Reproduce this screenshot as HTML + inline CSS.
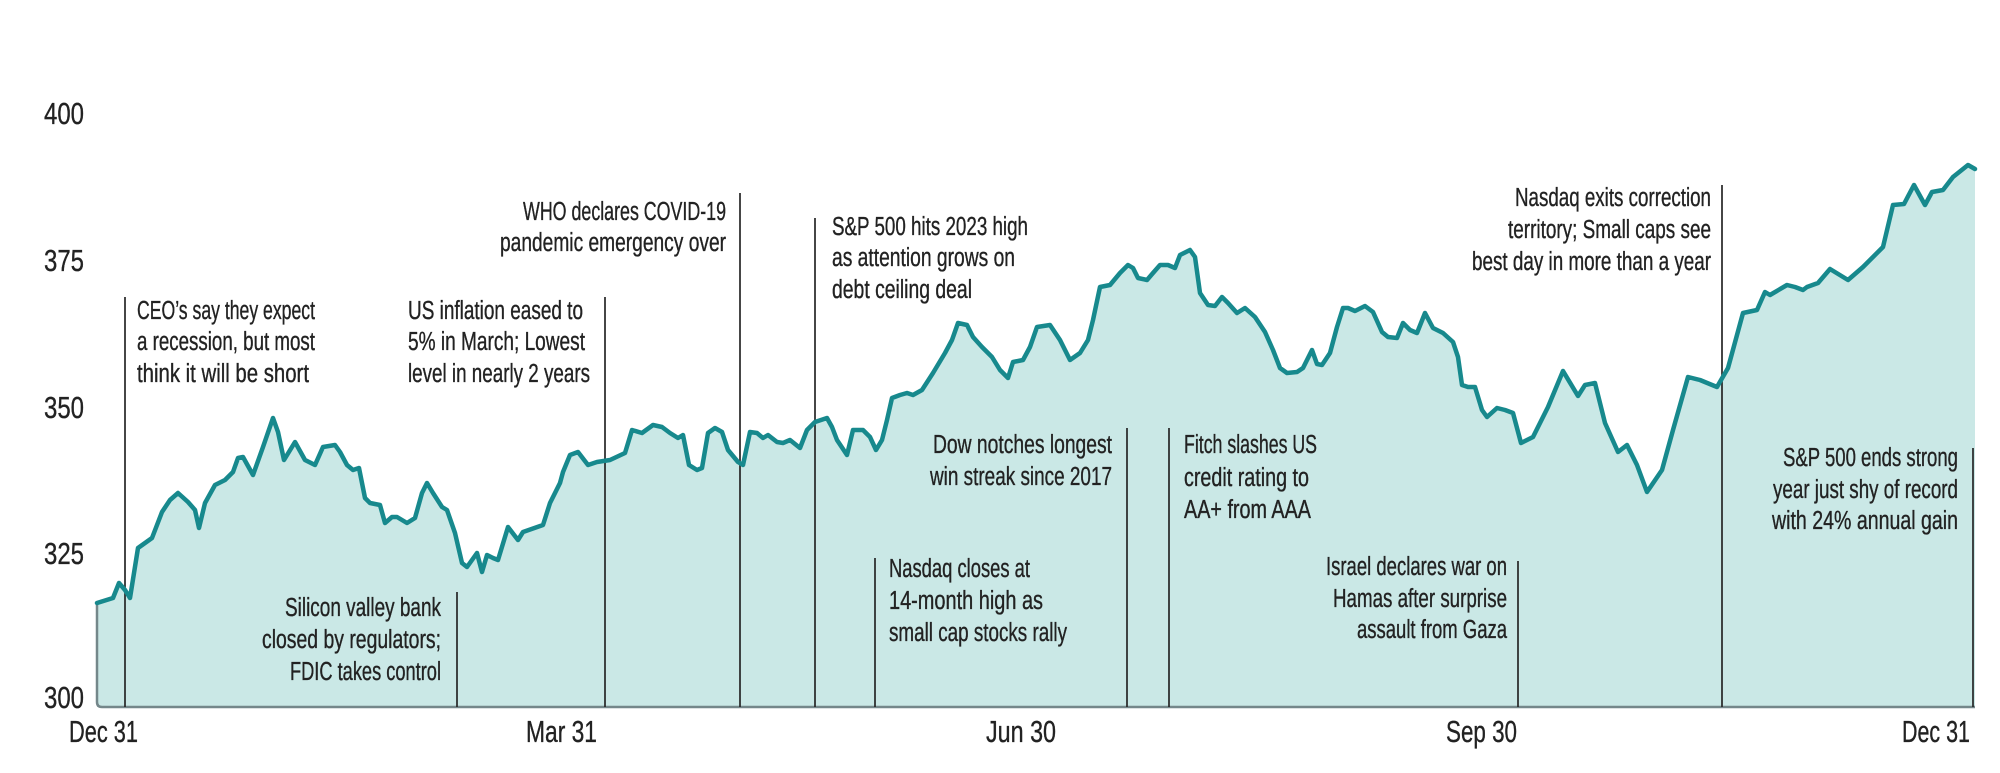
<!DOCTYPE html>
<html>
<head>
<meta charset="utf-8">
<style>
  html,body{margin:0;padding:0;background:#ffffff;}
  svg{display:block;}
  text{font-family:"Liberation Sans Narrow","Liberation Sans",sans-serif;fill:#222222;stroke:#222222;stroke-width:0.35px;}
  .a{font-size:25.5px;}
  .ax{font-size:31px;}
</style>
</head>
<body>
<svg width="2000" height="773" viewBox="0 0 2000 773" xmlns="http://www.w3.org/2000/svg">
  <rect x="0" y="0" width="2000" height="773" fill="#ffffff"/>

  <!-- area -->
  <path fill="#cae8e6" stroke="none" d="M97,707 L97,603 L113,598 L119,583 L125,590 L130,598 L138,548 L145,543 L152,538 L162,512 L170,500 L178,493 L188,502 L195,510 L199,528 L205,503 L215,485 L225,480 L233,472 L238,458 L243,457 L253,475 L263,447 L273,418 L278,432 L284,460 L295,442 L305,460 L315,465 L323,447 L335,445 L340,452 L347,465 L353,470 L359,468 L365,498 L370,503 L380,505 L385,523 L392,517 L397,517 L407,523 L415,518 L422,493 L427,483 L433,493 L442,507 L447,510 L455,533 L462,563 L467,567 L477,553 L482,572 L487,555 L493,558 L498,560 L508,527 L518,540 L523,532 L543,525 L550,503 L560,483 L563,472 L570,455 L578,452 L588,465 L597,462 L610,460 L625,453 L632,430 L642,433 L653,425 L662,427 L670,433 L678,438 L683,435 L689,465 L697,470 L702,468 L708,433 L715,428 L722,432 L728,450 L738,462 L743,465 L750,432 L757,433 L763,438 L768,435 L777,442 L783,443 L790,440 L800,448 L807,430 L815,422 L827,418 L832,427 L837,440 L847,455 L853,430 L863,430 L870,437 L876,450 L882,440 L887,420 L892,398 L900,395 L907,393 L913,395 L922,390 L933,373 L945,353 L952,340 L958,323 L967,325 L973,337 L982,347 L992,357 L1000,370 L1008,378 L1013,362 L1023,360 L1030,347 L1037,327 L1050,325 L1060,340 L1070,360 L1080,353 L1088,340 L1093,320 L1100,287 L1110,285 L1120,273 L1128,265 L1133,268 L1138,278 L1147,280 L1153,273 L1160,265 L1168,265 L1175,268 L1180,255 L1190,250 L1195,257 L1200,293 L1208,305 L1215,306 L1222,297 L1228,303 L1237,313 L1245,308 L1255,317 L1265,332 L1273,350 L1280,368 L1287,373 L1297,372 L1303,368 L1312,350 L1317,364 L1322,365 L1330,353 L1337,327 L1343,308 L1348,308 L1355,311 L1365,306 L1373,312 L1382,332 L1388,337 L1397,338 L1403,323 L1410,330 L1417,333 L1425,313 L1433,328 L1443,333 L1453,342 L1458,357 L1462,385 L1468,387 L1475,387 L1482,410 L1487,417 L1497,408 L1505,410 L1513,413 L1521,443 L1533,437 L1548,407 L1563,371 L1578,396 L1585,385 L1595,383 L1605,423 L1618,452 L1627,445 L1637,465 L1647,492 L1662,470 L1673,430 L1688,377 L1700,380 L1717,387 L1728,368 L1743,313 L1757,310 L1765,292 L1770,295 L1787,285 L1795,287 L1803,290 L1807,287 L1818,283 L1830,269 L1848,280 L1863,267 L1883,247 L1893,205 L1904,204 L1914,185 L1925,205 L1932,192 L1943,190 L1953,177 L1968,165 L1975,169 L1975,707 Z"/>

  <!-- left edge + baseline -->
  <path d="M97,604 L97,702 Q97,707 102,707 L1975,707" fill="none" stroke="#74878a" stroke-width="2.5"/>

  <!-- annotation lines -->
  <g stroke="#262626" stroke-width="1.7" fill="none">
    <line x1="125" y1="297" x2="125" y2="707"/>
    <line x1="457" y1="592" x2="457" y2="707"/>
    <line x1="605" y1="297" x2="605" y2="707"/>
    <line x1="740" y1="193" x2="740" y2="707"/>
    <line x1="815" y1="218" x2="815" y2="707"/>
    <line x1="875" y1="558" x2="875" y2="707"/>
    <line x1="1127" y1="428" x2="1127" y2="707"/>
    <line x1="1169" y1="428" x2="1169" y2="707"/>
    <line x1="1518" y1="561" x2="1518" y2="707"/>
    <line x1="1722" y1="185" x2="1722" y2="707"/>
    <line x1="1973" y1="448" x2="1973" y2="707"/>
  </g>

  <!-- series line -->
  <polyline fill="none" stroke="#17898d" stroke-width="4.5" stroke-linejoin="round" stroke-linecap="round" points="97,603 113,598 119,583 125,590 130,598 138,548 145,543 152,538 162,512 170,500 178,493 188,502 195,510 199,528 205,503 215,485 225,480 233,472 238,458 243,457 253,475 263,447 273,418 278,432 284,460 295,442 305,460 315,465 323,447 335,445 340,452 347,465 353,470 359,468 365,498 370,503 380,505 385,523 392,517 397,517 407,523 415,518 422,493 427,483 433,493 442,507 447,510 455,533 462,563 467,567 477,553 482,572 487,555 493,558 498,560 508,527 518,540 523,532 543,525 550,503 560,483 563,472 570,455 578,452 588,465 597,462 610,460 625,453 632,430 642,433 653,425 662,427 670,433 678,438 683,435 689,465 697,470 702,468 708,433 715,428 722,432 728,450 738,462 743,465 750,432 757,433 763,438 768,435 777,442 783,443 790,440 800,448 807,430 815,422 827,418 832,427 837,440 847,455 853,430 863,430 870,437 876,450 882,440 887,420 892,398 900,395 907,393 913,395 922,390 933,373 945,353 952,340 958,323 967,325 973,337 982,347 992,357 1000,370 1008,378 1013,362 1023,360 1030,347 1037,327 1050,325 1060,340 1070,360 1080,353 1088,340 1093,320 1100,287 1110,285 1120,273 1128,265 1133,268 1138,278 1147,280 1153,273 1160,265 1168,265 1175,268 1180,255 1190,250 1195,257 1200,293 1208,305 1215,306 1222,297 1228,303 1237,313 1245,308 1255,317 1265,332 1273,350 1280,368 1287,373 1297,372 1303,368 1312,350 1317,364 1322,365 1330,353 1337,327 1343,308 1348,308 1355,311 1365,306 1373,312 1382,332 1388,337 1397,338 1403,323 1410,330 1417,333 1425,313 1433,328 1443,333 1453,342 1458,357 1462,385 1468,387 1475,387 1482,410 1487,417 1497,408 1505,410 1513,413 1521,443 1533,437 1548,407 1563,371 1578,396 1585,385 1595,383 1605,423 1618,452 1627,445 1637,465 1647,492 1662,470 1673,430 1688,377 1700,380 1717,387 1728,368 1743,313 1757,310 1765,292 1770,295 1787,285 1795,287 1803,290 1807,287 1818,283 1830,269 1848,280 1863,267 1883,247 1893,205 1904,204 1914,185 1925,205 1932,192 1943,190 1953,177 1968,165 1975,169"/>

  <!-- y axis labels -->
  <g class="ax">
    <text x="44" y="124" textLength="40" lengthAdjust="spacingAndGlyphs">400</text>
    <text x="44" y="271" textLength="40" lengthAdjust="spacingAndGlyphs">375</text>
    <text x="44" y="418" textLength="40" lengthAdjust="spacingAndGlyphs">350</text>
    <text x="44" y="564" textLength="40" lengthAdjust="spacingAndGlyphs">325</text>
    <text x="44" y="708" textLength="40" lengthAdjust="spacingAndGlyphs">300</text>
  </g>

  <!-- x axis labels -->
  <g class="ax">
    <text x="69" y="742" textLength="69" lengthAdjust="spacingAndGlyphs">Dec 31</text>
    <text x="526" y="742" textLength="71" lengthAdjust="spacingAndGlyphs">Mar 31</text>
    <text x="986" y="742" textLength="70" lengthAdjust="spacingAndGlyphs">Jun 30</text>
    <text x="1446" y="742" textLength="71" lengthAdjust="spacingAndGlyphs">Sep 30</text>
    <text x="1902" y="742" textLength="68" lengthAdjust="spacingAndGlyphs">Dec 31</text>
  </g>

  <!-- annotations -->
  <g class="a">
    <text x="137" y="319" textLength="178" lengthAdjust="spacingAndGlyphs">CEO’s say they expect</text>
    <text x="137" y="350" textLength="178" lengthAdjust="spacingAndGlyphs">a recession, but most</text>
    <text x="137" y="382" textLength="172" lengthAdjust="spacingAndGlyphs">think it will be short</text>

    <text x="408" y="319" textLength="175" lengthAdjust="spacingAndGlyphs">US inflation eased to</text>
    <text x="408" y="350" textLength="177" lengthAdjust="spacingAndGlyphs">5% in March; Lowest</text>
    <text x="408" y="382" textLength="182" lengthAdjust="spacingAndGlyphs">level in nearly 2 years</text>

    <text x="523" y="220" textLength="203" lengthAdjust="spacingAndGlyphs">WHO declares COVID-19</text>
    <text x="500" y="251" textLength="226" lengthAdjust="spacingAndGlyphs">pandemic emergency over</text>

    <text x="832" y="235" textLength="196" lengthAdjust="spacingAndGlyphs">S&amp;P 500 hits 2023 high</text>
    <text x="832" y="266" textLength="183" lengthAdjust="spacingAndGlyphs">as attention grows on</text>
    <text x="832" y="298" textLength="140" lengthAdjust="spacingAndGlyphs">debt ceiling deal</text>

    <text x="933" y="453" textLength="179" lengthAdjust="spacingAndGlyphs">Dow notches longest</text>
    <text x="930" y="485" textLength="182" lengthAdjust="spacingAndGlyphs">win streak since 2017</text>

    <text x="889" y="577" textLength="141" lengthAdjust="spacingAndGlyphs">Nasdaq closes at</text>
    <text x="889" y="609" textLength="154" lengthAdjust="spacingAndGlyphs">14-month high as</text>
    <text x="889" y="641" textLength="178" lengthAdjust="spacingAndGlyphs">small cap stocks rally</text>

    <text x="1184" y="453" textLength="133" lengthAdjust="spacingAndGlyphs">Fitch slashes US</text>
    <text x="1184" y="486" textLength="125" lengthAdjust="spacingAndGlyphs">credit rating to</text>
    <text x="1184" y="518" textLength="127" lengthAdjust="spacingAndGlyphs">AA+ from AAA</text>

    <text x="1326" y="575" textLength="181" lengthAdjust="spacingAndGlyphs">Israel declares war on</text>
    <text x="1333" y="607" textLength="174" lengthAdjust="spacingAndGlyphs">Hamas after surprise</text>
    <text x="1357" y="638" textLength="150" lengthAdjust="spacingAndGlyphs">assault from Gaza</text>

    <text x="1515" y="206" textLength="196" lengthAdjust="spacingAndGlyphs">Nasdaq exits correction</text>
    <text x="1508" y="238" textLength="203" lengthAdjust="spacingAndGlyphs">territory; Small caps see</text>
    <text x="1472" y="270" textLength="239" lengthAdjust="spacingAndGlyphs">best day in more than a year</text>

    <text x="1783" y="466" textLength="175" lengthAdjust="spacingAndGlyphs">S&amp;P 500 ends strong</text>
    <text x="1773" y="498" textLength="185" lengthAdjust="spacingAndGlyphs">year just shy of record</text>
    <text x="1772" y="529" textLength="186" lengthAdjust="spacingAndGlyphs">with 24% annual gain</text>

    <text x="285" y="616" textLength="156" lengthAdjust="spacingAndGlyphs">Silicon valley bank</text>
    <text x="262" y="648" textLength="179" lengthAdjust="spacingAndGlyphs">closed by  regulators;</text>
    <text x="290" y="680" textLength="151" lengthAdjust="spacingAndGlyphs">FDIC takes control</text>
  </g>
</svg>
</body>
</html>
